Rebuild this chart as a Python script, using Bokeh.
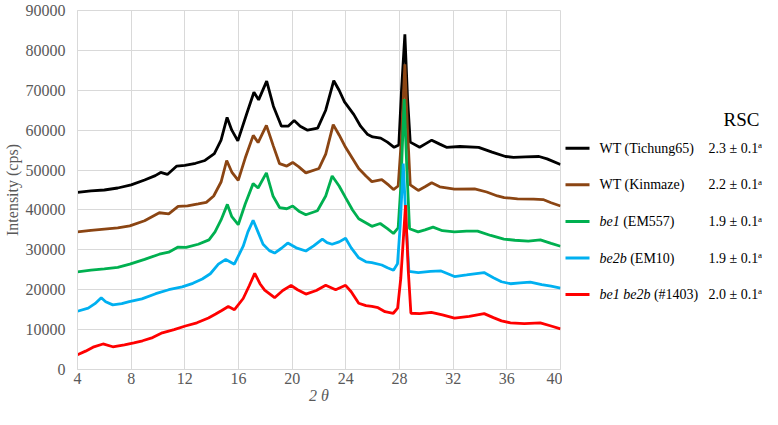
from bokeh.plotting import figure
from bokeh.layouts import row
from bokeh.models import FixedTicker, NumeralTickFormatter, Range1d
from bokeh.core.properties import value
from bokeh.embed import file_html
from bokeh.resources import INLINE

# ---------------- data ----------------
x_ticks = [4, 8, 12, 16, 20, 24, 28, 32, 36, 40]
y_ticks = [0, 10000, 20000, 30000, 40000, 50000, 60000, 70000, 80000, 90000]

names_main = ["WT (Tichung65)", "WT (Kinmaze)", "be1", "be2b", "be1 be2b"]
names_italic = [False, False, True, True, True]
names_rest = ["", "", "(EM557)", "(EM10)", "(#1403)"]
rsc_values = ["2.3 \u00b1 0.1", "2.2 \u00b1 0.1", "1.9 \u00b1 0.1", "1.9 \u00b1 0.1", "2.0 \u00b1 0.1"]
rsc_sup = ["a", "a", "a", "a", "a"]
colors = ["#000000", "#8B4513", "#00B050", "#00B0F0", "#FF0000"]

tich_x = [4.0, 5.0, 6.0, 7.0, 8.0, 9.0, 9.8, 10.2, 10.7, 11.4, 12.0, 12.8, 13.5, 14.2, 14.7, 15.15,
          15.5, 15.95, 16.6, 17.15, 17.5, 18.1, 18.6, 19.2, 19.7, 20.15, 20.6, 21.15, 21.9, 22.5,
          23.1, 23.5, 23.9, 24.6, 25.1, 25.6, 26.0, 26.6, 27.1, 27.6, 27.95, 28.15, 28.4, 28.6,
          28.8, 29.5, 29.9, 30.4, 31.0, 31.5, 32.5, 33.9, 34.9, 35.9, 36.5, 37.4, 38.4, 39.0, 40.0]
tich_y = [44400, 44800, 45000, 45500, 46300, 47500, 48600, 49400, 48900, 51000, 51200, 51700, 52400,
          54100, 57500, 63200, 60000, 57300, 64000, 69500, 67600, 72300, 66000, 61000, 61000, 62400,
          61000, 60000, 60500, 65000, 72400, 70000, 67100, 63900, 61000, 59000, 58300, 58000, 57000,
          55700, 56300, 70000, 84000, 68000, 57000, 55700, 56500, 57500, 56500, 55700, 55900, 55700,
          54500, 53400, 53200, 53300, 53400, 52800, 51400]

kin_x = [4.0, 5.0, 6.0, 7.0, 7.9, 9.0, 10.1, 10.8, 11.5, 12.2, 13.0, 13.6, 14.15, 14.7, 15.12, 15.5,
         15.98, 16.5, 17.1, 17.46, 18.08, 18.6, 19.06, 19.6, 20.04, 20.5, 21.02, 22.0, 22.5, 23.06,
         23.5, 23.98, 24.96, 25.5, 25.94, 26.68, 27.2, 27.55, 27.9, 28.15, 28.4, 28.6, 28.8, 29.4,
         29.9, 30.4, 31.0, 32.1, 33.6, 34.5, 35.3, 35.8, 36.8, 38.0, 38.7, 39.3, 40.0]
kin_y = [34500, 34900, 35200, 35500, 36000, 37300, 39300, 39000, 40900, 41000, 41500, 41900, 43500,
         47000, 52400, 49500, 47400, 53000, 58700, 56900, 61200, 56000, 51600, 51000, 51900, 50800,
         49300, 50400, 54000, 61400, 58800, 55700, 50400, 48500, 47100, 47600, 46200, 45100, 46000,
         58000, 76500, 60000, 46300, 44900, 45800, 46800, 45800, 45200, 45300, 44500, 43500, 43100,
         42800, 42700, 42600, 41800, 41000]

be1_x = [4.0, 5.0, 6.0, 7.0, 7.9, 9.0, 10.1, 10.8, 11.5, 12.1, 13.0, 13.8, 14.25, 14.7, 15.17, 15.5,
         15.98, 16.5, 17.09, 17.46, 18.08, 18.57, 19.06, 19.6, 20.04, 20.5, 21.02, 21.88, 22.5,
         22.98, 23.5, 23.98, 24.5, 24.96, 25.94, 26.56, 27.1, 27.55, 27.9, 28.1, 28.35, 28.55,
         28.75, 29.39, 29.9, 30.5, 31.2, 32.1, 33.0, 33.82, 34.8, 35.78, 36.6, 37.6, 38.5, 39.3, 40.0]
be1_y = [24500, 24900, 25200, 25600, 26400, 27600, 28900, 29400, 30700, 30600, 31400, 32500, 34500,
         37500, 41400, 38300, 36300, 41500, 46600, 45500, 49300, 43500, 40600, 40300, 41000, 39700,
         38800, 39800, 43500, 48500, 46000, 43100, 40000, 37800, 35900, 36600, 35300, 34100, 35500,
         46000, 67800, 50000, 35300, 34500, 35000, 35700, 34800, 34500, 34700, 34700, 33600, 32700,
         32400, 32200, 32500, 31600, 30900]

be2b_x = [4.0, 4.8, 5.3, 5.77, 6.1, 6.63, 7.3, 7.86, 8.8, 9.83, 10.8, 11.8, 12.6, 13.3, 13.9, 14.5,
          15.05, 15.69, 16.35, 16.7, 17.09, 17.45, 17.83, 18.3, 18.69, 19.2, 19.67, 20.3, 21.02,
          21.6, 22.25, 22.6, 22.98, 23.5, 23.98, 24.4, 24.96, 25.5, 25.94, 26.68, 27.1, 27.55, 27.85,
          28.05, 28.28, 28.5, 28.7, 29.4, 30.3, 31.1, 31.6, 32.1, 33.0, 34.3, 35.0, 35.6, 36.27, 37.0,
          37.75, 38.6, 39.3, 40.0]
be2b_y = [14600, 15400, 16500, 18000, 17000, 16200, 16500, 17000, 17700, 19000, 20000, 20700, 21600,
          22700, 24000, 26400, 27600, 26400, 30900, 34500, 37400, 34500, 31400, 29800, 29200, 30400,
          31700, 30500, 29700, 31000, 32700, 31800, 31400, 32000, 32900, 30500, 28000, 27000, 26800,
          26200, 25500, 24900, 26500, 36000, 51600, 36000, 24600, 24300, 24600, 24700, 24000, 23300,
          23700, 24300, 23000, 22000, 21500, 21700, 21900, 21300, 20900, 20400]

dbl_x = [4.0, 4.6, 5.16, 5.9, 6.63, 7.5, 8.2, 8.85, 9.6, 10.32, 11.2, 12.04, 12.9, 13.76, 14.3, 14.75,
         15.24, 15.7, 16.35, 16.8, 17.21, 17.6, 17.95, 18.69, 19.3, 19.92, 20.4, 21.02, 21.8, 22.5,
         23.24, 23.98, 24.4, 24.96, 25.5, 25.94, 26.4, 26.92, 27.54, 27.86, 28.1, 28.45, 28.65,
         28.85, 29.5, 30.37, 31.2, 32.1, 33.2, 34.31, 35.0, 35.6, 36.27, 37.3, 38.49, 39.3, 40.0]
dbl_y = [3700, 4600, 5600, 6400, 5700, 6200, 6700, 7200, 8000, 9200, 10000, 10900, 11700, 12900,
         13900, 14800, 15800, 15000, 17800, 21000, 24100, 21500, 19900, 18000, 19800, 21100, 20000,
         18900, 19800, 21100, 20000, 21100, 19500, 16600, 16000, 15800, 15500, 14500, 14100, 15400,
         23000, 41200, 25000, 14100, 14000, 14300, 13700, 12900, 13300, 14000, 13000, 12200, 11700,
         11500, 11700, 10900, 10200]

series_x = [tich_x, kin_x, be1_x, be2b_x, dbl_x]
series_y = [tich_y, kin_y, be1_y, be2b_y, dbl_y]

# ---------------- main figure ----------------
FONT = "'Liberation Serif', 'Times New Roman', serif"
GRAY = "#595959"
GRID = "#d9d9d9"
H = 409

p = figure(width=562, height=H, x_range=Range1d(4, 40), y_range=Range1d(0, 90000),
           output_backend="svg", toolbar_location=None,
           min_border_left=73, min_border_right=2, min_border_top=10, min_border_bottom=40)
p.outline_line_color = GRID

for ax in (p.xaxis, p.yaxis):
    ax.axis_line_color = GRID
    ax.major_tick_line_color = None
    ax.minor_tick_line_color = None
    ax.major_tick_out = 0
    ax.major_tick_in = 0
    ax.major_label_text_font = FONT
    ax.major_label_text_font_size = "16px"
    ax.major_label_text_color = GRAY
    ax.axis_label_text_font = FONT
    ax.axis_label_text_font_size = "16px"
    ax.axis_label_text_color = GRAY

p.xaxis.ticker = FixedTicker(ticks=x_ticks)
p.yaxis.ticker = FixedTicker(ticks=y_ticks)
p.yaxis.formatter = NumeralTickFormatter(format="0")
p.xaxis.major_label_standoff = 3
p.yaxis.major_label_standoff = 12
p.xaxis.axis_label = "2 \u03b8"
p.xaxis.axis_label_text_font_style = "italic"
p.xaxis.axis_label_standoff = 0
p.yaxis.axis_label = "Intensity (cps)"
p.yaxis.axis_label_text_font_style = "normal"
p.yaxis.axis_label_standoff = 2

p.xgrid.grid_line_color = GRID
p.ygrid.grid_line_color = GRID

for xs, ys, c in zip(series_x, series_y, colors):
    p.line(xs, ys, line_color=c, line_width=2.8)

# ---------------- legend panel (pixel-like coordinates, y downward) ----------------
W2 = 200
q = figure(width=W2, height=H, x_range=Range1d(0, W2), y_range=Range1d(H, 0),
           output_backend="svg", toolbar_location=None,
           x_axis_location=None, y_axis_location=None, min_border=0)
q.outline_line_color = None
q.grid.visible = False

row_y = [157, 198.5, 240.5, 282, 323.5]
seg_x0, seg_x1 = 3, 27
text_x = 37
rsc_x = 146
# italic part width + one space (14px Liberation Serif)
italic_w = {"be1": 20.2 + 3.5, "be2b": 27.2 + 3.5, "be1 be2b": 50.9 + 3.5}

q.segment(x0=[seg_x0] * 5, y0=row_y, x1=[seg_x1] * 5, y1=row_y, line_color=colors, line_width=3)

main_norm_x, main_norm_y, main_norm_t = [], [], []
main_it_x, main_it_y, main_it_t = [], [], []
for i in range(5):
    if names_italic[i]:
        main_it_x.append(text_x); main_it_y.append(row_y[i]); main_it_t.append(names_main[i])
        main_norm_x.append(text_x + italic_w[names_main[i]]); main_norm_y.append(row_y[i])
        main_norm_t.append(names_rest[i])
    else:
        main_norm_x.append(text_x); main_norm_y.append(row_y[i]); main_norm_t.append(names_main[i])

q.text(x=main_norm_x, y=main_norm_y, text=main_norm_t, text_font=value(FONT),
       text_font_size="14px", text_baseline="middle", text_color="#000000")
q.text(x=main_it_x, y=main_it_y, text=main_it_t, text_font=value(FONT), text_font_style="italic",
       text_font_size="14px", text_baseline="middle", text_color="#000000")
q.text(x=[rsc_x] * 5, y=row_y, text=rsc_values, text_font=value(FONT),
       text_font_size="14px", text_baseline="middle", text_color="#000000")
q.text(x=[rsc_x + 49.5] * 5, y=[r - 3.5 for r in row_y], text=rsc_sup, text_font=value(FONT),
       text_font_size="9px", text_baseline="middle", text_color="#000000")
q.text(x=[179], y=[124], text=["RSC"], text_font=value(FONT), text_font_size="19px",
       text_align="center", text_baseline="middle", text_color="#000000")

layout = row(p, q)
open("out.html", "w").write(file_html(layout, INLINE))
